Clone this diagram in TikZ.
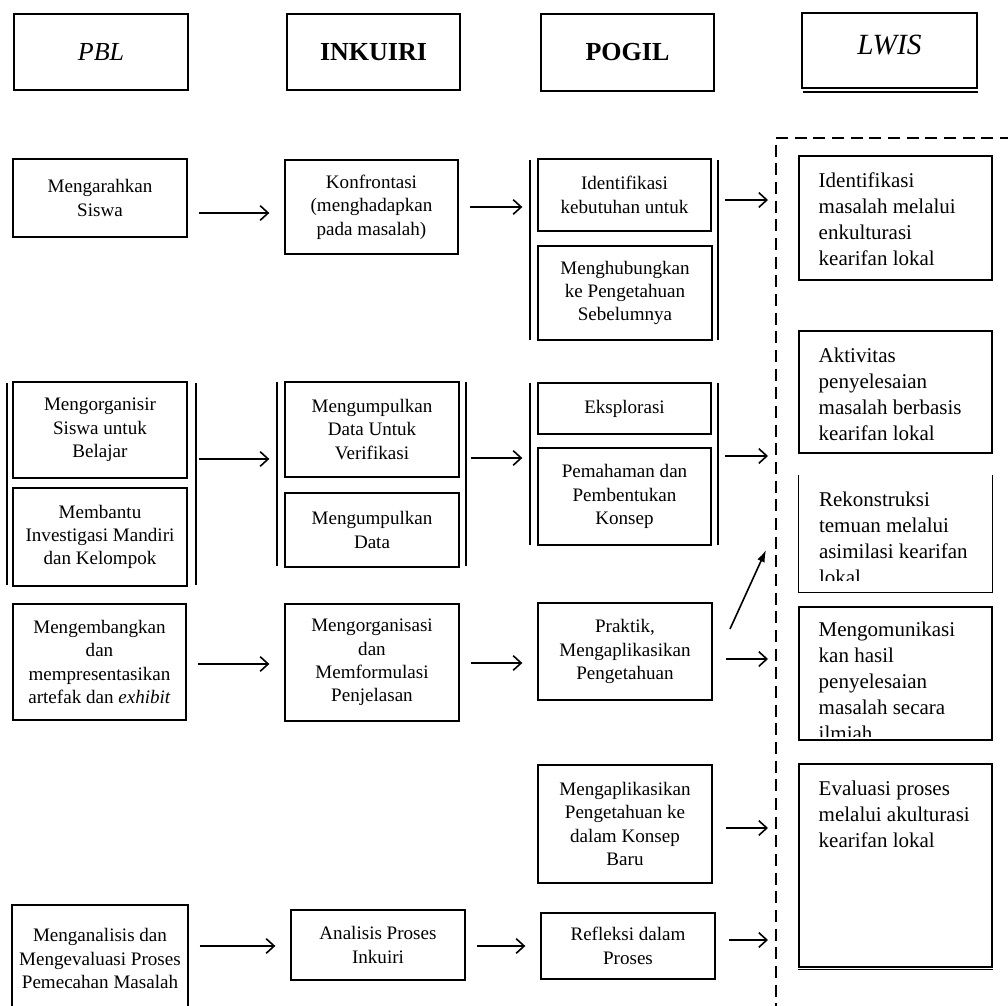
\documentclass[tikz,border=0pt]{standalone}
\usepackage{fontspec}
\setmainfont{Liberation Serif}
\usetikzlibrary{arrows.meta}

\tikzset{
  sz/.style 2 args={minimum width=#1*0.75pt, minimum height=#2*0.75pt},
  hdr/.style={draw, line width=1.5pt, inner sep=0pt, font=\fontsize{19.5}{22}\selectfont},
  box/.style={draw, line width=1.5pt, align=center, inner sep=2pt, font=\fontsize{14.3}{17.5}\selectfont},
  lwbox/.style={draw, line width=0.8pt},
  lwline/.style={line width=0.8pt},
  lwtxt/.style={align=left, anchor=north west, inner sep=0pt, font=\fontsize{15.75}{19.5}\selectfont},
  brk/.style={line width=1pt},
  arr/.style={-{Straight Barb[length=6pt,width=11pt]}, line width=1.2pt, shorten <=8pt, shorten >=11pt},
  arrf/.style={-{Straight Barb[length=6pt,width=11pt]}, line width=1.2pt, shorten <=10pt, shorten >=6pt},
  frm/.style={line width=1.5pt, dash pattern=on 9pt off 5pt}
}

\begin{document}
\begin{tikzpicture}[x=0.75pt, y=-0.75pt]
  \clip (0,0) rectangle (1008,1006);

  % headers
  \node[hdr, sz={174}{76}] (pbl) at (101,52) {\textit{PBL}};
  \node[hdr, sz={173}{76}] (ink) at (373.5,52) {\textbf{INKUIRI}};
  \node[hdr, sz={173}{77}] (pog) at (627.5,52.5) {\textbf{POGIL}};
  \node[hdr, sz={175}{75}, text depth=9pt, font=\fontsize{22}{24}\selectfont] (lwis) at (889.5,50.5) {\textit{LWIS}};
  \draw[line width=1.5pt] ([shift={(2,3)}]lwis.south west) -- ([shift={(0,3)}]lwis.south east);

  % PBL column
  \node[box, sz={174}{78}] (a1) at (100,198) {Mengarahkan\\Siswa};
  \node[box, sz={174}{96}] (a2) at (100,430) {Mengorganisir\\Siswa untuk\\Belajar};
  \node[box, sz={174}{98}] (a3) at (100,537) {Membantu\\Investigasi Mandiri\\dan Kelompok};
  \node[box, sz={173}{116}] (a4) at (99.5,662) {Mengembangkan\\dan\\mempresentasikan\\artefak dan \textit{exhibit}};
  \node[box, sz={176}{107}] (a5) at (100,958.5) {Menganalisis dan\\Mengevaluasi Proses\\Pemecahan Masalah};
  \draw[brk] (7,383) -- (7,585);
  \draw[brk] (196,383) -- (196,585);

  % INKUIRI column
  \node[box, sz={173}{94}] (b1) at (371.5,207) {Konfrontasi\\(menghadapkan\\pada masalah)};
  \node[box, sz={174}{95}] (b2) at (372,429.5) {Mengumpulkan\\Data Untuk\\Verifikasi};
  \node[box, sz={174}{74}] (b3) at (372,530) {Mengumpulkan\\Data};
  \node[box, sz={174}{117}] (b4) at (372,662.5) {Mengorganisasi\\dan\\Memformulasi\\Penjelasan};
  \node[box, sz={174}{70}] (b5) at (378,945) {Analisis Proses\\Inkuiri};
  \draw[brk] (277,382) -- (277,566);
  \draw[brk] (466,382) -- (466,566);

  % POGIL column
  \node[box, sz={173}{72}] (c1) at (624.5,195) {Identifikasi\\kebutuhan untuk};
  \node[box, sz={174}{94}] (c2) at (625,293) {Menghubungkan\\ke Pengetahuan\\Sebelumnya};
  \node[box, sz={173}{51}] (c3) at (624.5,408.5) {Eksplorasi};
  \node[box, sz={173}{97}] (c4) at (624.5,496.5) {Pemahaman dan\\Pembentukan\\Konsep};
  \node[box, sz={174}{97}] (c5) at (625,651.5) {Praktik,\\Mengaplikasikan\\Pengetahuan};
  \node[box, sz={174}{118}] (c6) at (625,824) {Mengaplikasikan\\Pengetahuan ke\\dalam Konsep\\Baru};
  \node[box, sz={174}{66}] (c7) at (628,946) {Refleksi dalam\\Proses};
  \draw[brk] (530,160) -- (530,340);
  \draw[brk] (718,160) -- (718,340);
  \draw[brk] (530,383) -- (530,545);
  \draw[brk] (718,383) -- (718,545);

  % LWIS column
  \coordinate (fr) at (776,138);
  \draw[frm] (1012,138) -- (fr) -- (776,1012);

  \node[lwbox, sz={193}{124}] (l1) at (895.5,218) {};
  \node[lwtxt] (l1t) at ([shift={(20,17)}]l1.north west) {Identifikasi\\masalah melalui\\enkulturasi\\kearifan lokal};

  \node[lwbox, sz={193}{122}] (l2) at (895.5,392) {};
  \node[lwtxt] (l2t) at ([shift={(20,17)}]l2.north west) {Aktivitas\\penyelesaian\\masalah berbasis\\kearifan lokal};

  \node[sz={193}{117}] (l3) at (895.5,533.5) {};
  \draw[lwline] (l3.north west) -- (l3.south west) -- (l3.south east) -- (l3.north east);
  \begin{scope}
    \clip (l3.north west) rectangle ([yshift=8.5pt]l3.south east);
    \node[lwtxt] (l3t) at ([shift={(20,17)}]l3.north west) {Rekonstruksi\\temuan melalui\\asimilasi kearifan\\lokal};
  \end{scope}

  \node[lwbox, sz={193}{133}] (l4) at (895.5,673.5) {};
  \begin{scope}
    \clip (l4.north west) rectangle ([yshift=3pt]l4.south east);
    \node[lwtxt] (l4t) at ([shift={(20,15)}]l4.north west) {Mengomunikasi\\kan hasil\\penyelesaian\\masalah secara\\ilmiah};
  \end{scope}

  \node[lwbox, sz={193}{203}] (l5) at (895.5,865.5) {};
  \draw[lwline] ([yshift=-1.5pt]l5.south west) -- ([yshift=-1.5pt]l5.south east);
  \node[lwtxt] (l5t) at ([shift={(20,17)}]l5.north west) {Evaluasi proses\\melalui akulturasi\\kearifan lokal};

  % arrows
  \draw[arr] (a1.east |- 0,213) -- (b1.west |- 0,213);
  \draw[arr] (b1.east |- 0,207) -- (c1.west |- 0,207);
  \draw[arrf] (c1.east |- 0,200) -- (fr |- 0,200);

  \draw[arr] (a2.east |- 0,459) -- (b2.west |- 0,459);
  \draw[arr] (b2.east |- 0,458) -- (c3.west |- 0,458);
  \draw[arrf] (c4.east |- 0,456) -- (fr |- 0,456);

  \draw[arr] (a4.east |- 0,664) -- (b4.west |- 0,664);
  \draw[arr] (b4.east |- 0,663) -- (c5.west |- 0,663);
  \draw[arrf] (c5.east |- 0,659) -- (fr |- 0,659);
  \coordinate (dg) at (766,550);
  \draw[-{Latex[length=9pt,width=6pt]}, line width=1.2pt] ([shift={(17,27)}]c5.north east) -- (dg);

  \draw[arrf] (c6.east |- 0,828) -- (fr |- 0,828);

  \draw[arr] (a5.east |- 0,946) -- (b5.west |- 0,946);
  \draw[arr] (b5.east |- 0,946) -- (c7.west |- 0,946);
  \draw[arrf] (c7.east |- 0,940) -- (fr |- 0,940);
\end{tikzpicture}
\end{document}
